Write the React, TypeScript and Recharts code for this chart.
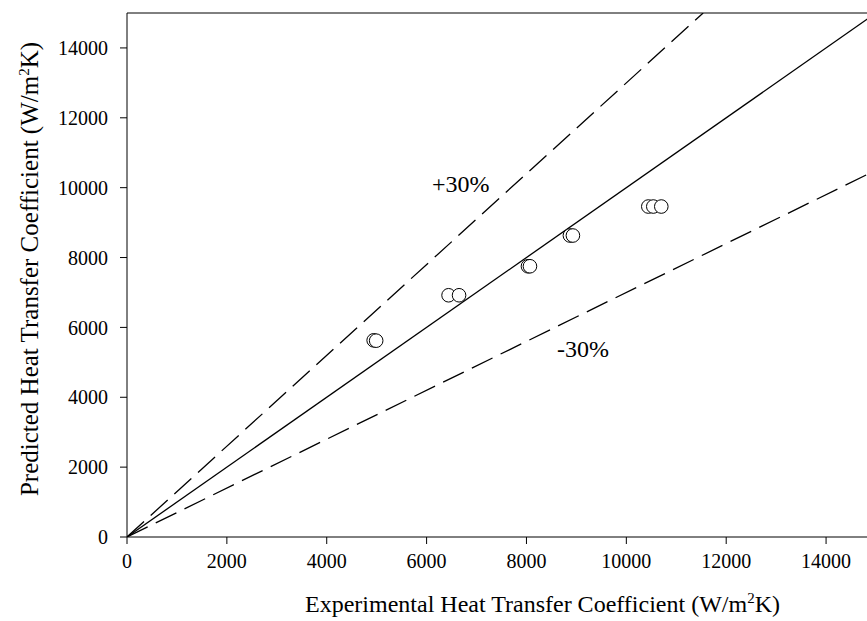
import { ScatterChart, Scatter, XAxis, YAxis, ReferenceLine } from "recharts";

const AXIS_MAX = 15000;
const TICKS = [0, 2000, 4000, 6000, 8000, 10000, 12000, 14000];

// measured (x) vs predicted (y) heat transfer coefficient, W/m2K
const EXP_HTC = [4940, 4990, 6440, 6650, 8030, 8070, 8870, 8930, 10440, 10540, 10700];
const PRED_HTC = [5630, 5620, 6920, 6920, 7750, 7750, 8630, 8630, 9460, 9460, 9460];

// y = r * x reference lines: +30%, parity, -30%
const RATIOS = [1.3, 1.0, 0.7];
const RATIO_DASH = ["23 9", undefined, "23 9"];

const BAND_LABELS = ["+30%", "-30%"];
const BAND_LABEL_X = [6110, 8610];
const BAND_LABEL_Y = [9890, 5160];

const FONT = '"Liberation Serif", "Times New Roman", serif';

const points = EXP_HTC.map((x, i) => ({ x, y: PRED_HTC[i] }));
const ratioLines = RATIOS.map((r) => {
  const xEnd = Math.min(AXIS_MAX, AXIS_MAX / r);
  return [
    { x: 0, y: 0 },
    { x: xEnd, y: xEnd * r },
  ];
});
const labels = BAND_LABELS.map((text, i) => ({ x: BAND_LABEL_X[i], y: BAND_LABEL_Y[i], text }));

const TICK = { fontSize: 20, fill: "#000", fontFamily: FONT };
const noShape = () => <g />;

const Circle = (p: any) => (
  <circle cx={p.cx} cy={p.cy} r={6.8} fill="#fff" stroke="#000" strokeWidth={1} />
);

const BandText = (p: any) => (
  <text x={p.cx} y={p.cy} fontSize={24} fontFamily={FONT} fill="#000">
    {p.payload.text}
  </text>
);

const XTitle = (p: any) => {
  const vb = p.viewBox;
  return (
    <text x={vb.x + vb.width / 2 + 41} y={612} textAnchor="middle" fontSize={24} fontFamily={FONT} fill="#000">
      Experimental Heat Transfer Coefficient (W/m
      <tspan dy={-9} fontSize={15}>2</tspan>
      <tspan dy={9}>K)</tspan>
    </text>
  );
};

const YTitle = (p: any) => {
  const vb = p.viewBox;
  const cy = vb.y + vb.height / 2 - 6;
  return (
    <text
      x={38}
      y={cy}
      transform={`rotate(-90 38 ${cy})`}
      textAnchor="middle"
      fontSize={25}
      fontFamily={FONT}
      fill="#000"
    >
      Predicted Heat Transfer Coefficient (W/m
      <tspan dy={-9} fontSize={15}>2</tspan>
      <tspan dy={9}>K)</tspan>
    </text>
  );
};

export default function App() {
  return (
    <div
      style={{
        position: "fixed",
        left: 0,
        top: 0,
        width: 867,
        height: 621,
        overflow: "hidden",
        background: "#fff",
        fontFamily: FONT,
      }}
    >
      <ScatterChart width={900} height={621} margin={{ top: 13, right: 24, bottom: 0, left: 0 }}>
        <XAxis
          type="number"
          dataKey="x"
          domain={[0, AXIS_MAX]}
          ticks={TICKS}
          tick={TICK}
          tickSize={7}
          tickMargin={10}
          height={84}
          axisLine={{ stroke: "#000" }}
          tickLine={{ stroke: "#000" }}
          allowDataOverflow
          label={{ content: XTitle }}
        />
        <YAxis
          type="number"
          dataKey="y"
          domain={[0, AXIS_MAX]}
          ticks={TICKS}
          tick={TICK}
          tickSize={7}
          tickMargin={12}
          width={127}
          axisLine={{ stroke: "#000" }}
          tickLine={{ stroke: "#000" }}
          allowDataOverflow
          label={{ content: YTitle }}
        />
        <ReferenceLine y={AXIS_MAX} stroke="#000" />
        {ratioLines.map((data, i) => (
          <Scatter
            key={i}
            data={data}
            line={{ stroke: "#000", strokeWidth: 1.3, strokeDasharray: RATIO_DASH[i] }}
            shape={noShape}
            isAnimationActive={false}
          />
        ))}
        <Scatter data={points} shape={Circle} isAnimationActive={false} />
        <Scatter data={labels} shape={BandText} isAnimationActive={false} />
      </ScatterChart>
    </div>
  );
}
